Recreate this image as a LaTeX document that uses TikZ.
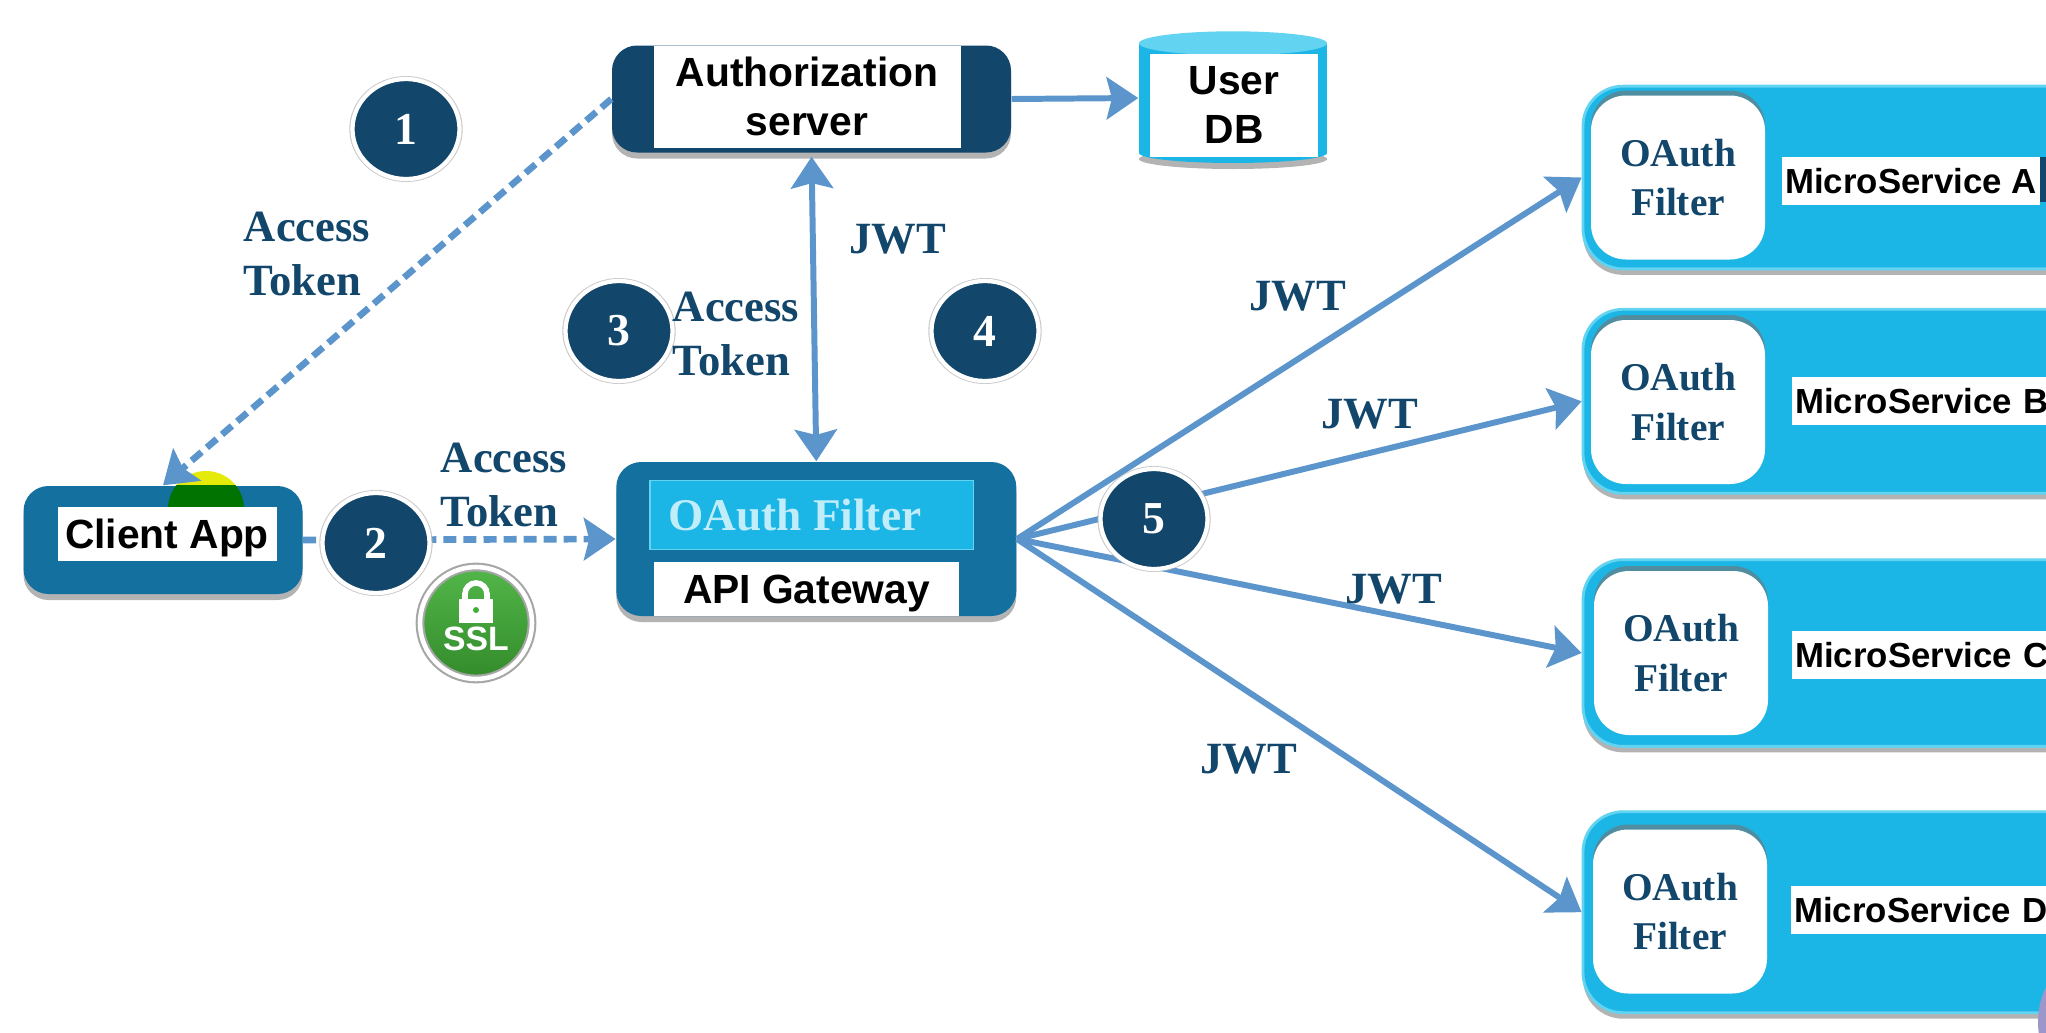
\documentclass[tikz,border=0pt]{standalone}
\usepackage{fontspec}
\setmainfont{Liberation Serif}
\setsansfont{Liberation Sans}
\usepackage{tikz}
\usetikzlibrary{arrows.meta}
\usetikzlibrary{shapes.geometric}
\usetikzlibrary{shadows}
\definecolor{navy}{HTML}{12466B}
\definecolor{teal1}{HTML}{14719F}
\definecolor{cyan1}{HTML}{1CB6E6}
\definecolor{capc}{HTML}{62D3F0}
\definecolor{flow}{HTML}{5B95CC}
\definecolor{sslg}{HTML}{3FAE35}
\definecolor{lav}{HTML}{9D97C9}

\begin{document}
\begin{tikzpicture}
[shadeb/.style={drop shadow={shadow xshift=0pt,shadow yshift=-.6mm,fill=black!50,opacity=.6}},
shadet/.style={drop shadow={shadow xshift=0pt,shadow yshift=.5mm,fill=black!55,opacity=.6}},
boxa/.style={rectangle,rounded corners=2.5mm,fill=teal1,shadeb,inner sep=0},
serv/.style={rectangle,rounded corners=4mm,fill=cyan1,draw=capc,thick,shadeb,minimum width=5.17cm,inner sep=0},
filt/.style={rectangle,rounded corners=3.5mm,fill=white,shadet,minimum width=1.74cm,minimum height=1.64cm,inner sep=0,
  align=center,text=navy,font=\fontsize{11.2}{14.2}\selectfont\bfseries},
tagw/.style={rectangle,fill=white,inner sep=0,align=center,text=black,font=\sffamily\fontsize{11.6}{13.8}\selectfont\bfseries},
mstag/.style={rectangle,fill=white,anchor=west,inner xsep=.035cm,inner ysep=0,minimum height=.48cm,align=left,text=black,
  font=\sffamily\fontsize{9.9}{12}\selectfont\bfseries},
word/.style={align=left,inner sep=0,text=navy,font=\fontsize{12.7}{15.3}\selectfont\bfseries},
numb/.style={ellipse,fill=navy,draw=white,line width=1.2pt,minimum width=1.07cm,minimum height=1cm,inner sep=0,text=white,
  font=\fontsize{13}{16}\selectfont\bfseries,drop shadow={shadow xshift=0pt,shadow yshift=0pt,shadow scale=1.06,fill=black!30,opacity=.7}},
solidl/.style={draw=flow,line width=1.7pt,-{Stealth[length=9pt,width=12pt,inset=1.5pt]}},
dashl/.style={solidl,line width=1.9pt,dash pattern=on 3.7pt off 2pt}]
\clip (0,0) rectangle (20.46,10.32);

% client side
\node at (2.06,5.23) [circle,fill=yellow!90!green,minimum size=.76cm,inner sep=0] (mark) {};
\node at (1.63,4.92) [boxa,minimum width=2.79cm,minimum height=1.08cm] (client) {};
\begin{scope}
\clip (client.south west) rectangle (client.north east);
\node at (2.06,5.23) [circle,fill=green!45!black,minimum size=.76cm,inner sep=0] (markin) {};
\end{scope}
\node at (1.67,4.98) [tagw,text depth=0pt,minimum width=2.19cm,minimum height=.535cm] (clienttag) {Client App};

% auth and user db
\node at (8.115,9.33) [boxa,fill=navy,minimum width=3.99cm,minimum height=1.07cm] (auth) {};
\node at (8.07,9.354) [tagw,minimum width=3.07cm,minimum height=1.02cm] (authtag) {Authorization\\server};
\node at (12.33,8.79) [ellipse,fill=cyan1,shadeb,minimum width=1.88cm,minimum height=.2cm,inner sep=0] (dbfoot) {};
\node at (12.33,9.34) [rectangle,fill=cyan1,minimum width=1.88cm,minimum height=1.10cm,inner sep=0] (db) {};
\node at (12.33,9.887) [ellipse,fill=capc,minimum width=1.88cm,minimum height=.24cm,inner sep=0] (dbcap) {};
\node at (12.34,9.27) [tagw,minimum width=1.68cm,minimum height=1.03cm] (dbtag) {User\\DB};

% gateway
\node at (8.163,4.93) [boxa,minimum width=4cm,minimum height=1.54cm] (gate) {};
\node at (8.117,5.172) [rectangle,fill=cyan1,draw=capc,minimum width=3.236cm,minimum height=.69cm,inner sep=0,
  text=capc!40!white,font=\fontsize{12.9}{15}\selectfont\bfseries] (gatefilt) {OAuth Filter\rule{.34cm}{0pt}};
\node at (8.065,4.43) [tagw,text depth=0pt,minimum width=3.05cm,minimum height=.535cm] (gatetag) {API Gateway};

% services
\node at (18.415,8.545) [serv,minimum height=1.827cm] (msa) {};
\node at (18.415,6.307) [serv,minimum height=1.84cm]  (msb) {};
\node at (18.415,3.79)  [serv,minimum height=1.867cm] (msc) {};
\node at (18.415,1.198) [serv,minimum height=2.01cm]  (msd) {};
\node at (16.78,8.545) [filt] (fa) {OAuth\\Filter};
\node at (16.78,6.30)  [filt] (fb) {OAuth\\Filter};
\node at (16.81,3.79)  [filt] (fc) {OAuth\\Filter};
\node at (16.80,1.205) [filt] (fd) {OAuth\\Filter};
\fill [navy] (20.40,8.30) rectangle (20.46,8.75);
\node at (17.81,8.51) [mstag] (msatag) {MicroService A};
\node at (17.91,6.307) [mstag,text width=3cm] (msbtag) {MicroService B};
\node at (17.91,3.77)  [mstag,text width=3cm] (msctag) {MicroService C};
\node at (17.90,1.22)  [mstag,text width=3cm] (msdtag) {MicroService D};
\node at (21.18,.1) [circle,fill=lav,minimum size=1.6cm,inner sep=0] (dot) {};

% flows
\draw [solidl] (auth.east) to (db.west);
\draw [dashl] (auth.west) to (client.north);
\draw [dashl] (client.east) to (gate.west);
\draw [solidl,{Stealth[length=9pt,width=12pt,inset=1.5pt]}-{Stealth[length=9pt,width=12pt,inset=1.5pt]},shorten <=1pt] (auth.south) to (gate.north);
\draw [solidl] (gate.east) to (msa.west);
\draw [solidl] (gate.east) to (msb.west);
\draw [solidl] (gate.east) to (msc.west);
\draw [solidl] (gate.east) to (msd.west);

% steps
\node at (4.06,9.03)  [numb] (n1) {1};
\node at (3.76,4.89)  [numb] (n2) {2};
\node at (6.19,7.01)  [numb] (n3) {3};
\node at (9.85,7.01)  [numb] (n4) {4};
\node at (11.54,5.13) [numb] (n5) {5};

% ssl badge
\node at (4.76,4.09) [circle,top color=sslg!90!white,bottom color=sslg!80!black,draw=black!35,line width=.6pt,double=white,double distance=1.3pt,minimum size=1.12cm,inner sep=0] (ssl) {};
\draw [white,line width=1.6pt] (4.65,4.30) -- (4.65,4.38) arc (180:0:.11) -- (4.87,4.30);
\node at (4.76,4.21) [rectangle,fill=white,minimum width=.34cm,minimum height=.24cm,inner sep=0] (lock) {};
\fill [sslg] (4.76,4.22) circle (.03);
\node at (4.76,3.93) [inner sep=0,text=white,font=\sffamily\fontsize{9.6}{11}\selectfont\bfseries] (ssltag) {SSL};

% labels
\node at (3.07,7.78) [word] (at1) {Access\\Token};
\node at (7.36,6.98) [word] (at2) {Access\\Token};
\node at (5.04,5.47) [word] (at3) {Access\\Token};
\node at (8.98,7.93)  [word] (jw1) {JWT};
\node at (12.98,7.36) [word] (jw2) {JWT};
\node at (13.70,6.18) [word] (jw3) {JWT};
\node at (13.94,4.43) [word] (jw4) {JWT};
\node at (12.49,2.73) [word] (jw5) {JWT};
\end{tikzpicture}
\end{document}
